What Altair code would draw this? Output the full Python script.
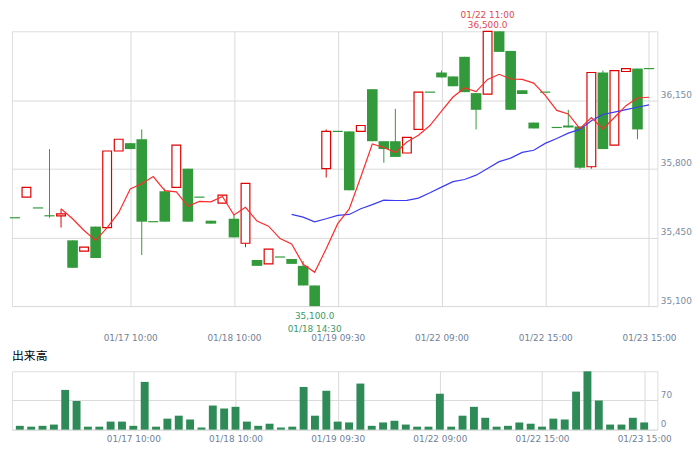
import altair as alt
import pandas as pd

# ---------------- data ----------------
idx = list(range(56))
opens = [35550, 35655, 35600, 35560, 35560, 35435, 35380, 35505, 35500, 35890,
         35930, 35950, 35530, 35685, 35705, 35800, 35655, 35535, 35625, 35545,
         35420, 35335, 35315, 35350, 35340, 35305, 35205, 35800, 35990, 35990,
         35990, 36205, 35940, 35940, 35880, 36000, 36190, 36290, 36270, 36370,
         36185, 36180, 36500, 36400, 36200, 36035, 36190, 36010, 36020, 36015,
         35810, 36290, 35920, 36295, 36310, 36310]
highs = [35550, 35705, 35600, 35900, 35595, 35435, 35400, 35505, 35890, 35950,
         35930, 36000, 35530, 35700, 35920, 35800, 35655, 35535, 35665, 35565,
         35725, 35335, 35390, 35350, 35340, 35330, 35205, 36000, 35990, 35990,
         36020, 36205, 35940, 36105, 35960, 36190, 36190, 36300, 36270, 36370,
         36185, 36500, 36500, 36400, 36200, 36035, 36190, 36010, 36100, 36015,
         36290, 36300, 36300, 36310, 36310, 36310]
lows = [35550, 35655, 35600, 35550, 35500, 35295, 35380, 35345, 35500, 35890,
        35900, 35360, 35530, 35530, 35705, 35530, 35655, 35520, 35625, 35450,
        35400, 35305, 35315, 35350, 35315, 35205, 35100, 35755, 35990, 35690,
        35990, 35940, 35830, 35860, 35880, 36000, 36190, 36265, 36220, 36190,
        36000, 36180, 36395, 36100, 36180, 36005, 36190, 36010, 36010, 35800,
        35800, 35900, 35920, 36295, 35950, 36310]
closes = [35550, 35705, 35600, 35560, 35570, 35295, 35400, 35345, 35890, 35950,
          35900, 35530, 35530, 35530, 35920, 35530, 35655, 35520, 35665, 35450,
          35725, 35305, 35390, 35350, 35315, 35205, 35100, 35990, 35990, 35690,
          36020, 35940, 35900, 35860, 35960, 36190, 36190, 36265, 36220, 36190,
          36100, 36500, 36395, 36100, 36180, 36005, 36190, 36010, 36010, 35805,
          36290, 35900, 36300, 36310, 36000, 36310]
volumes = [9, 7, 9, 12, 94, 68, 7, 7, 19, 19,
           9, 113, 7, 26, 33, 24, 5, 57, 50, 54,
           19, 9, 14, 5, 7, 101, 33, 92, 19, 17,
           109, 9, 17, 21, 12, 7, 7, 85, 7, 33,
           54, 28, 7, 9, 17, 14, 7, 26, 24, 90,
           138, 69, 12, 12, 28, 17]

ma5_idx = list(range(4, 56))
ma5 = [35596, 35545, 35485, 35434, 35500, 35576, 35697, 35723, 35760, 35688,
       35682, 35608, 35633, 35631, 35658, 35564, 35603, 35533, 35507, 35444,
       35417, 35313, 35272, 35392, 35520, 35595, 35758, 35926, 35908, 35882,
       35936, 35970, 36020, 36093, 36165, 36211, 36193, 36255, 36281, 36257,
       36255, 36236, 36174, 36097, 36079, 36004, 36061, 36003, 36061, 36121,
       36160, 36164]
ma25_idx = list(range(24, 56))
ma25 = [35567, 35553, 35529, 35545, 35562, 35567, 35596, 35617, 35640, 35638,
        35639, 35650, 35677, 35706, 35734, 35745, 35767, 35801, 35836, 35854,
        35883, 35894, 35929, 35954, 35981, 36000, 36044, 36076, 36088, 36101,
        36113, 36125]

tick_idx = [10, 19, 28, 37, 46, 55]
tick_labels = ["01/17 10:00", "01/18 10:00", "01/19 09:30",
               "01/22 09:00", "01/22 15:00", "01/23 15:00"]
price_ticks = [35100, 35450, 35800, 36150]
vol_ticks = [0, 70]

hi_idx = [41]
hi_time = ["01/22 11:00"]
hi_price = ["36,500.0"]
lo_idx = [26]
lo_time = ["01/18 14:30"]
lo_price = ["35,100.0"]

# ---------------- styling ----------------
W = 653
H_MAIN = 278
H_VOL = 59
GREEN = "#339a3b"
RED = "#e00000"
VOL_GREEN = "#2e8b57"
GRID = "#dadada"
XLABEL = "#6f7f99"
YLABEL = "#7d8ba0"
MA5_COLOR = "#ff2b2b"
MA25_COLOR = "#3b3bf5"
ANN_RED = "#e3474f"
ANN_GREEN = "#3a9a6a"
FONT = "DejaVu Sans"

df = pd.DataFrame({"i": idx, "open": opens, "high": highs, "low": lows,
                   "close": closes, "vol": volumes})
df["dir"] = ["up" if c > o else ("down" if c < o else "flat")
             for o, c in zip(opens, closes)]

xscale = alt.Scale(domain=[-0.257, 55.729], nice=False, zero=False)
yscale = alt.Scale(domain=[35100, 36500], nice=False, zero=False)

label_expr = " : ".join(f"datum.value == {v} ? '{t}'" for v, t in zip(tick_idx, tick_labels)) + " : ''"


def x_axis(pad):
    return alt.Axis(values=tick_idx, labelExpr=label_expr, grid=True, gridColor=GRID,
                    domain=False, ticks=False, tickSize=0, labelPadding=pad,
                    labelFontSize=9, labelFont=FONT, labelColor=XLABEL,
                    labelOverlap=False, labelFlush=False, labelBaseline="top",
                    labelAlign="center", title=None)


def y_axis(values, fmt):
    return alt.Axis(orient="right", values=values, format=fmt, grid=True, gridColor=GRID,
                    domain=False, ticks=False, tickSize=0, labelPadding=3,
                    labelFontSize=9, labelFont=FONT, labelColor=YLABEL,
                    labelBaseline="alphabetic", labelOffset=-3, labelFlush=False,
                    title=None)


XA_MAIN = x_axis(28)
YA_MAIN = y_axis(price_ticks, ",d")


def X(field):
    return alt.X(f"{field}:Q", scale=xscale, axis=XA_MAIN)


def Y(field):
    return alt.Y(f"{field}:Q", scale=yscale, axis=YA_MAIN)


base = alt.Chart(df)

wick = base.transform_filter("datum.high > datum.low").mark_rule(strokeWidth=1).encode(
    x=X("i"), y=Y("low"), y2="high",
    color=alt.Color("dir:N", scale=alt.Scale(domain=["up", "down", "flat"],
                                             range=[RED, GREEN, GREEN]), legend=None))

down = base.transform_filter("datum.dir == 'down'").transform_calculate(
    a="datum.i - 0.46", b="datum.i + 0.46").mark_rect(color=GREEN).encode(
    x=X("a"), x2="b", y=Y("open"), y2="close")

flat = base.transform_filter("datum.dir == 'flat'").transform_calculate(
    a="datum.i - 0.44", b="datum.i + 0.44").mark_rule(color=GREEN, strokeWidth=1.2).encode(
    x=X("a"), x2="b", y=Y("close"))

up = base.transform_filter("datum.dir == 'up'").transform_calculate(
    a="datum.i - 0.38", b="datum.i + 0.38").mark_rect(
    fill="white", stroke=RED, strokeWidth=1.2).encode(
    x=X("a"), x2="b", y=Y("open"), y2="close")

l5 = alt.Chart(pd.DataFrame({"i": ma5_idx, "v": ma5})).mark_line(
    color=MA5_COLOR, strokeWidth=1.2).encode(x=X("i"), y=Y("v"))
l25 = alt.Chart(pd.DataFrame({"i": ma25_idx, "v": ma25})).mark_line(
    color=MA25_COLOR, strokeWidth=1.2).encode(x=X("i"), y=Y("v"))

hi_df = pd.DataFrame({"i": hi_idx, "t": hi_time, "p": hi_price})
lo_df = pd.DataFrame({"i": lo_idx, "t": lo_time, "p": lo_price})

hi_t = alt.Chart(hi_df).mark_text(baseline="top", fontSize=9, font=FONT, color=ANN_RED).encode(
    x=X("i"), y=alt.value(-20), text="t:N")
hi_p = alt.Chart(hi_df).mark_text(baseline="top", fontSize=9, font=FONT, color=ANN_RED).encode(
    x=X("i"), y=alt.value(-10), text="p:N")
lo_p = alt.Chart(lo_df).mark_text(baseline="top", fontSize=9, font=FONT, color=ANN_GREEN).encode(
    x=X("i"), y=alt.value(284), text="p:N")
lo_t = alt.Chart(lo_df).mark_text(baseline="top", fontSize=9, font=FONT, color=ANN_GREEN).encode(
    x=X("i"), y=alt.value(297.5), text="t:N")

main = alt.layer(wick, down, flat, up, l25, l5, hi_t, hi_p, lo_p, lo_t).properties(
    width=W, height=H_MAIN)

vol = alt.Chart(df).mark_bar(size=8, color=VOL_GREEN).encode(
    x=alt.X("i:Q", scale=xscale, axis=x_axis(5)),
    y=alt.Y("vol:Q", scale=alt.Scale(domain=[0, 138], nice=False, zero=True),
            axis=y_axis(vol_ticks, "d")),
).properties(
    width=W, height=H_VOL,
    title=alt.TitleParams("出来高", anchor="start", fontSize=12, font="Noto Sans CJK JP",
                          color="#000000", fontWeight="normal", offset=8))

chart = alt.vconcat(main, vol, spacing=6).properties(padding=0).configure_view(
    stroke=GRID, strokeWidth=1).configure(background="white")

chart.save("out.html", embed_options={"renderer": "svg", "actions": False})
